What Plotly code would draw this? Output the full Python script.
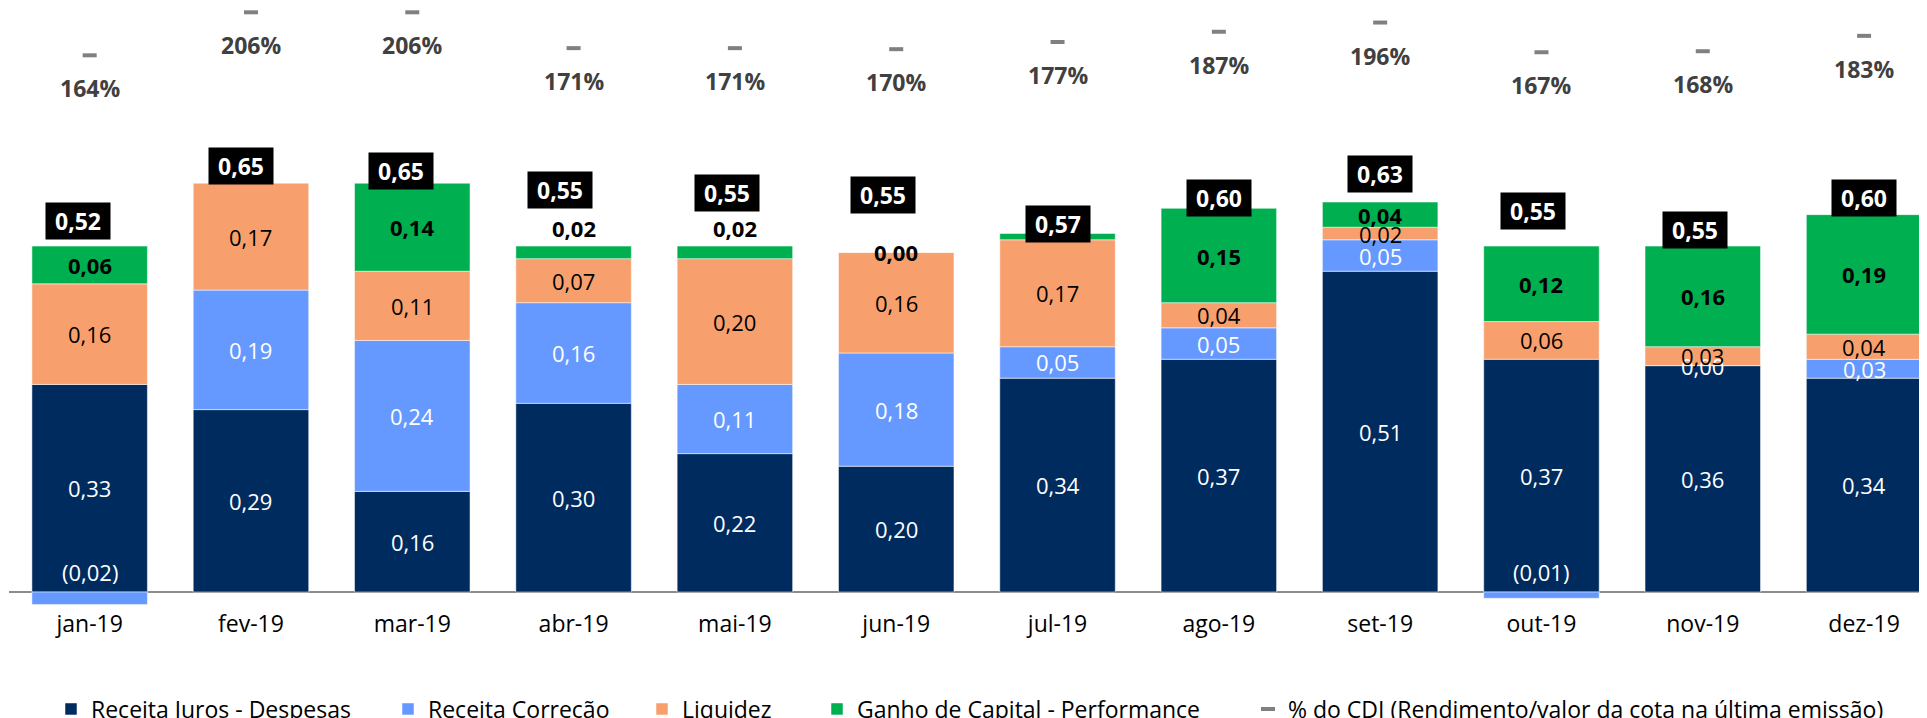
import plotly.graph_objects as go

# ─────────────────────────────────────────────────────────────────────────────
# Données
# ─────────────────────────────────────────────────────────────────────────────
months   = ["jan-19", "fev-19", "mar-19", "abr-19", "mai-19", "jun-19",
            "jul-19", "ago-19", "set-19", "out-19", "nov-19", "dez-19"]
juros    = [0.33, 0.29, 0.16, 0.30, 0.22, 0.20, 0.34, 0.37, 0.51, 0.37, 0.36, 0.34]
correcao = [-0.02, 0.19, 0.24, 0.16, 0.11, 0.18, 0.05, 0.05, 0.05, -0.01, 0.00, 0.03]
liquidez = [0.16, 0.17, 0.11, 0.07, 0.20, 0.16, 0.17, 0.04, 0.02, 0.06, 0.03, 0.04]
ganho    = [0.06, None, 0.14, 0.02, 0.02, 0.00, 0.01, 0.15, 0.04, 0.12, 0.16, 0.19]
total    = [0.52, 0.65, 0.65, 0.55, 0.55, 0.55, 0.57, 0.60, 0.63, 0.55, 0.55, 0.60]
cdi      = [164, 206, 206, 171, 171, 170, 177, 187, 196, 167, 168, 183]

# nudges (px) of the total boxes, as placed by hand in the original
box_dx = [-12, -10, -11, -14, -8, -13, 0, 0, 0, -8, -8, 0]
box_dy = [25, 17, 12, 56, 53, 57, 10, 10, 28, 35, 16, 17]

FONT = "Open Sans, Noto Sans, sans-serif"
FS   = 23       # legend, ticks, totals, % CDI
FS_SEG = 22     # labels inside the bars
W, H = 1919, 710          # page body has an 8px margin

series = [
    ("Receita Juros - Despesas",       juros,    "#002B5E", "white", False),
    ("Receita Correção",               correcao, "#6699FF", "white", False),
    ("Liquidez",                       liquidez, "#F7A06E", "black", False),
    ("Ganho de Capital - Performance", ganho,    "#00B050", "black", True),
]
legend_text_x = [91, 428, 682, 857, 1288]


def fmt(v):
    s = f"{abs(v):.2f}".replace(".", ",")
    return f"({s})" if v < 0 else s


fig = go.Figure()
annotations = []
pos_top = [0.0] * len(months)
neg_bot = [0.0] * len(months)

for k, (name, vals, color, tcolor, bold) in enumerate(series):
    fig.add_trace(go.Bar(
        x=list(range(len(months))), y=vals, name=name,
        marker=dict(color=color, line=dict(color="rgba(255,255,255,0.5)", width=1)),
        legend="legend" if k == 0 else f"legend{k + 1}",
        showlegend=True, hoverinfo="skip",
    ))
    for i, v in enumerate(vals):
        if v is None:
            continue
        if v >= 0:
            y0, y1 = pos_top[i], pos_top[i] + v
            pos_top[i] = y1
        else:
            y0, y1 = neg_bot[i] + v, neg_bot[i]
            neg_bot[i] = y0
        txt = f"<b>{fmt(v)}</b>" if bold else fmt(v)
        font = dict(family=FONT, size=FS_SEG, color=tcolor)
        if v < 0:
            annotations.append(dict(x=i, y=0, text=txt, showarrow=False,
                                    yanchor="bottom", yshift=3, font=font))
        elif bold and 0 < v < 0.03:
            annotations.append(dict(x=i, y=y1, text=txt, showarrow=False,
                                    yanchor="bottom", yshift=1, font=font))
        else:
            annotations.append(dict(x=i, y=(y0 + y1) / 2, text=txt,
                                    showarrow=False, font=font))

# % do CDI
fig.add_trace(go.Scatter(
    x=list(range(len(months))), y=cdi, yaxis="y2", mode="markers",
    name="% do CDI (Rendimento/valor da cota na última emissão)",
    marker=dict(symbol="line-ew", size=10, color="#808080",
                line=dict(color="#808080", width=4)),
    legend="legend5", showlegend=True, hoverinfo="skip",
))
for i, v in enumerate(cdi):
    annotations.append(dict(x=i, y=v, yref="y2", text=f"<b>{v}%</b>",
                            showarrow=False, yshift=-33,
                            font=dict(family=FONT, size=FS, color="#404040")))

# totals in black boxes
for i, v in enumerate(total):
    annotations.append(dict(x=i, y=pos_top[i], text=f"<b>{fmt(v)}</b>",
                            showarrow=False, xshift=box_dx[i], yshift=box_dy[i],
                            bgcolor="black", width=60, height=32, borderpad=2,
                            font=dict(family=FONT, size=FS, color="white")))

legends = {}
for k, tx in enumerate(legend_text_x):
    key = "legend" if k == 0 else f"legend{k + 1}"
    legends[key] = dict(
        x=(tx - 8 - 40) / W, xref="container", xanchor="left",
        y=9 / H, yref="container", yanchor="middle",
        orientation="h", bgcolor="rgba(0,0,0,0)",
        font=dict(family=FONT, size=FS, color="black"),
    )

fig.update_layout(
    width=W, height=H,
    margin=dict(l=1, r=0, t=0, b=110, autoexpand=False),
    showlegend=True,
    barmode="relative", bargap=0.284,
    plot_bgcolor="white", paper_bgcolor="white",
    font=dict(family=FONT, size=FS, color="black"),
    xaxis=dict(tickmode="array", tickvals=list(range(len(months))),
               ticktext=months, range=[-0.5, 11.39], showgrid=False,
               showline=False, zeroline=False, ticks="",
               tickfont=dict(family=FONT, size=FS, color="black")),
    yaxis=dict(range=[-0.0254, 0.9285], showgrid=False, showticklabels=False,
               zeroline=True, zerolinecolor="#8C8C8C", zerolinewidth=2),
    yaxis2=dict(range=[-375.7, 210.2], overlaying="y", showgrid=False,
                showticklabels=False, zeroline=False, visible=False),
    annotations=annotations,
    **legends,
)

fig.write_html("out.html")
